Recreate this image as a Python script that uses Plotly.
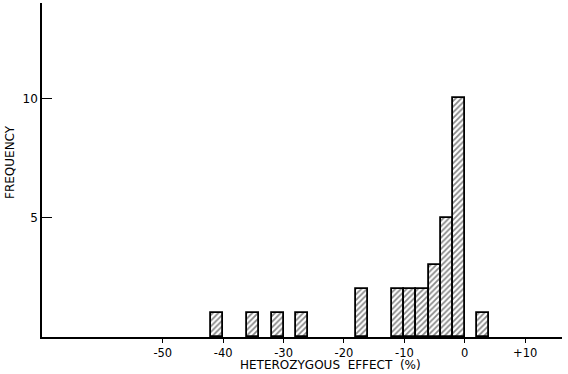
import plotly.graph_objects as go

bin_left = [-42, -36, -32, -28, -18, -12, -10, -8, -6, -4, -2, 2]
freq = [1, 1, 1, 1, 2, 2, 2, 2, 3, 5, 10, 1]
bin_width = 2
x_ticks = [-50, -40, -30, -20, -10, 0, 10]
x_tick_text = ["-50", "-40", "-30", "-20", "-10", "0", "+10"]
y_ticks = [5, 10]

centers = [b + bin_width / 2 for b in bin_left]

fig = go.Figure()
fig.add_trace(go.Bar(
    x=centers, y=freq, width=[bin_width] * len(freq),
    marker=dict(color="white",
                line=dict(color="black", width=1.8),
                pattern=dict(shape="/", fgcolor="#111", bgcolor="white", size=4, solidity=0.45)),
    showlegend=False, hoverinfo="skip",
))

font = "DejaVu Sans, Arial, sans-serif"
fig.update_layout(
    width=568, height=374,
    margin=dict(l=42, r=6, t=3, b=37),
    paper_bgcolor="white", plot_bgcolor="white",
    font=dict(family=font, color="black", size=12),
    bargap=0,
)
fig.update_xaxes(
    range=[-70, 16.1], showgrid=False, zeroline=False,
    showline=True, linecolor="black", linewidth=1.5,
    tickvals=x_ticks, ticktext=x_tick_text,
    ticks="outside", ticklen=4, tickcolor="black", tickwidth=1.2,
    tickfont=dict(size=11.5, family=font),
)
fig.update_yaxes(
    range=[0, 14], showgrid=False, zeroline=False,
    showline=True, linecolor="black", linewidth=1.5,
    tickvals=y_ticks, ticktext=["5", "10"],
    ticks="inside", ticklen=10, tickcolor="black", tickwidth=1.2,
    tickfont=dict(size=12, family=font),
)
fig.add_annotation(
    text="HETEROZYGOUS&nbsp;&nbsp;EFFECT&nbsp;&nbsp;(%)",
    xref="paper", yref="paper", x=(330 - 42) / 520, y=0, yshift=-36,
    xanchor="center", yanchor="bottom", showarrow=False, borderpad=0,
    font=dict(size=12, family=font),
)
fig.add_annotation(
    text="FREQUENCY", textangle=-90,
    xref="paper", yref="paper", x=0, xshift=-32, y=(337 - 162) / 334,
    xanchor="center", yanchor="middle", showarrow=False,
    font=dict(size=12, family=font),
)
fig.write_html("out.html")
